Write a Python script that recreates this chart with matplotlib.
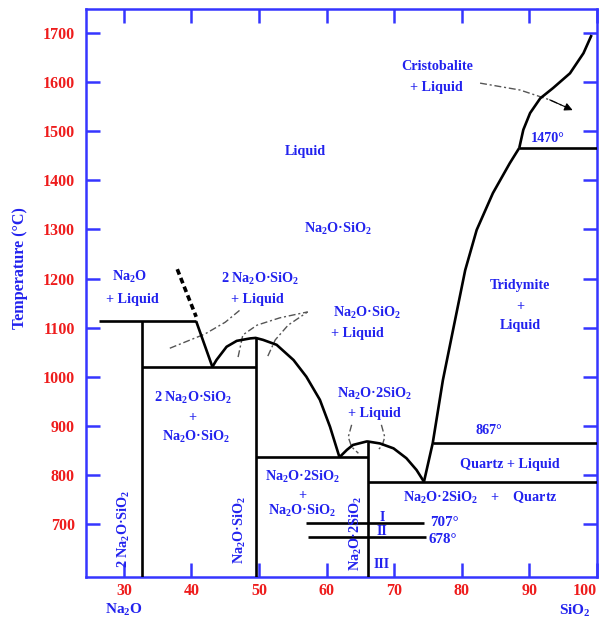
import matplotlib
matplotlib.use("Agg")
import matplotlib.pyplot as plt

plt.rcParams['font.family'] = ['Liberation Serif', 'DejaVu Serif']
plt.rcParams['font.weight'] = 'bold'
plt.rcParams['mathtext.fontset'] = 'custom'
plt.rcParams['mathtext.rm'] = 'Liberation Serif:bold'
plt.rcParams['mathtext.it'] = 'Liberation Serif:bold'
plt.rcParams['mathtext.bf'] = 'Liberation Serif:bold'
plt.rcParams['mathtext.default'] = 'rm'

# ---------------- data ----------------
x_ticks = [30, 40, 50, 60, 70, 80, 90, 100]
y_ticks = [700, 800, 900, 1000, 1100, 1200, 1300, 1400, 1500, 1600, 1700]

# compound compositions (wt% SiO2) and tops of their vertical lines
x_c1 = 32.7   # 2Na2O.SiO2
x_c2 = 49.5   # Na2O.SiO2
x_c3 = 66.1   # Na2O.2SiO2
t_c1_top = 1113
t_c2_top = 1079
t_c3_top = 868

# horizontals: (x_start, x_end, T)
h_1118 = (26.3, 40.7, 1113)
h_1020 = (32.7, 49.5, 1020)
h_837 = (49.5, 66.1, 836)
h_790 = (66.1, 100, 786)
h_867 = (75.7, 100, 865)
h_1470 = (88.5, 100, 1466)
h_707 = (57.0, 74.4, 701)
h_678 = (57.3, 74.7, 674)

# liquidus: 2Na2O.SiO2 incongruent -> eutectic
liq_a_x = [40.7, 43.1]
liq_a_t = [1113, 1020]
# dome of Na2O.SiO2
dome1_x = [43.1, 43.7, 45.2, 46.7, 48.7, 49.5, 50.6, 52.6, 55.1, 57.0, 59.0, 60.5, 61.9]
dome1_t = [1020, 1034, 1061, 1073, 1078, 1079, 1075, 1065, 1034, 1000, 953, 898, 836]
# dome of Na2O.2SiO2
dome2_x = [61.9, 63.0, 63.9, 65.9, 66.1, 67.9, 69.9, 71.8, 73.3, 74.4]
dome2_t = [836, 851, 861, 868, 868, 864, 854, 834, 810, 786]
# tridymite liquidus
trid_x = [74.4, 75.7, 77.2, 78.7, 80.5, 82.2, 84.6, 87.1, 88.5]
trid_t = [786, 865, 993, 1095, 1217, 1299, 1374, 1435, 1466]
# cristobalite liquidus
crist_x = [88.5, 89.1, 90.1, 91.6, 93.5, 96.0, 98.0, 99.2]
crist_t = [1466, 1503, 1537, 1567, 1588, 1618, 1659, 1696]

# metastable extension (thick dashed)
meta_x = [37.9, 40.7]
meta_t = [1219, 1122]

# thin dashed leader lines
lead_a_x = [36.8, 42.0, 45.0, 47.2]
lead_a_t = [1058, 1087, 1111, 1136]
lead_b_x = [46.9, 47.6, 49.7, 53.1, 57.2]
lead_b_t = [1040, 1085, 1105, 1120, 1132]
lead_c_x = [51.3, 52.4, 54.3, 57.2]
lead_c_t = [1042, 1075, 1105, 1132]
lead_d_x = [63.7, 63.2, 63.7, 64.7]
lead_d_t = [902, 877, 857, 844]
lead_e_x = [68.1, 68.6, 68.2, 67.6]
lead_e_t = [902, 877, 859, 851]
arrow_x = [82.7, 88.6, 93.0, 96.4]
arrow_t = [1598, 1584, 1564, 1543]

# text labels: (text, x, T)
labels = [
    ("Cristobalite", 76.3, 1631),
    ("+ Liquid", 76.3, 1590),
    ("1470°", 92.7, 1486),
    ("Liquid", 56.8, 1458),
    ("Na$_2$O·SiO$_2$", 61.7, 1301),
    ("Na$_2$O", 30.9, 1203),
    ("+ Liquid", 31.2, 1158),
    ("2 Na$_2$O·SiO$_2$", 50.1, 1199),
    ("+ Liquid", 49.7, 1158),
    ("Na$_2$O·SiO$_2$", 66.0, 1130),
    ("+ Liquid", 64.6, 1089),
    ("Tridymite", 88.6, 1185),
    ("+", 88.6, 1144),
    ("Liquid", 88.6, 1105),
    ("2 Na$_2$O·SiO$_2$", 40.2, 957),
    ("+", 40.2, 916),
    ("Na$_2$O·SiO$_2$", 40.7, 877),
    ("Na$_2$O·2SiO$_2$", 67.0, 965),
    ("+ Liquid", 67.0, 926),
    ("867°", 84.0, 890),
    ("Quartz + Liquid", 87.1, 822),
    ("Na$_2$O·2SiO$_2$", 56.4, 796),
    ("+", 56.4, 757),
    ("Na$_2$O·SiO$_2$", 56.4, 726),
    ("Na$_2$O·2SiO$_2$    +    Quartz", 82.7, 753),
    ("I", 68.2, 714),
    ("II", 68.2, 684),
    ("III", 68.2, 617),
]
left_labels = [
    ("707°", 75.3, 702),
    ("678°", 75.0, 668),
]
vert_labels = [
    ("2 Na$_2$O·SiO$_2$", 30.0, 690),
    ("Na$_2$O·SiO$_2$", 47.2, 688),
    ("Na$_2$O·2SiO$_2$", 64.3, 680),
]

# ---------------- plot ----------------
BLUE = '#2222ee'
SPINE = '#3535ff'
RED = '#ee1c1c'

fig = plt.figure(figsize=(6.02, 6.24), dpi=100)
ax = fig.add_axes([86/602, 1-577/624, (597-86)/602, (577-9)/624])
ax.set_xlim(24.4, 100)
ax.set_ylim(592, 1749)

lw = 1.9
kw = dict(color='black', lw=lw, solid_capstyle='butt', solid_joinstyle='round', zorder=3)
ax.plot([x_c1, x_c1], [592, t_c1_top], **kw)
ax.plot([x_c2, x_c2], [592, t_c2_top], **kw)
ax.plot([x_c3, x_c3], [592, t_c3_top], **kw)
for h in (h_1118, h_1020, h_837, h_790, h_867, h_1470, h_707, h_678):
    ax.plot([h[0], h[1]], [h[2], h[2]], **kw)
ax.plot(liq_a_x, liq_a_t, **kw)
ax.plot(dome1_x, dome1_t, **kw)
ax.plot(dome2_x, dome2_t, **kw)
ax.plot(trid_x, trid_t, **kw)
ax.plot(crist_x, crist_t, **kw)

ax.plot(meta_x, meta_t, color='black', lw=2.6, dashes=(1.6, 1.0), zorder=3)

dkw = dict(color='#555555', lw=1.0, dashes=(5, 2, 1.5, 2), zorder=2)
for lx, lt in ((lead_a_x, lead_a_t), (lead_b_x, lead_b_t), (lead_c_x, lead_c_t),
               (lead_d_x, lead_d_t), (lead_e_x, lead_e_t), (arrow_x, arrow_t)):
    ax.plot(lx, lt, **dkw)
ax.annotate('', xy=(arrow_x[-1], arrow_t[-1]), xytext=(arrow_x[-2], arrow_t[-2]),
            arrowprops=dict(arrowstyle='-|>', color='black', lw=0.8,
                            mutation_scale=12, shrinkA=0, shrinkB=0))

tkw = dict(color=BLUE, fontsize=10.2, fontweight='bold', ha='center', va='center', zorder=4)
for s, x, t in labels:
    ax.text(x, t, s, **tkw)
for s, x, t in left_labels:
    ax.text(x, t, s, color=BLUE, fontsize=10.8, fontweight='bold', ha='left', va='center')
for s, x, t in vert_labels:
    ax.text(x, t, s, rotation=90, **tkw)

for sp in ax.spines.values():
    sp.set_color(SPINE)
    sp.set_linewidth(1.8)
ax.set_xticks(x_ticks)
ax.set_yticks(y_ticks)
ax.tick_params(direction='in', length=10, width=1.8, color=SPINE,
               top=True, right=True, labelcolor=RED, labelsize=11.5)
ax.tick_params(axis='y', pad=8)
ax.tick_params(axis='x', pad=4)
for lab in ax.get_xticklabels() + ax.get_yticklabels():
    lab.set_fontweight('bold')
ax.get_xticklabels()[-1].set_horizontalalignment('right')
ax.get_xticklabels()[-1].set_x(100.3)

fig.text(20/602, 1-268/624, "Temperature (°C)", rotation=90, color=BLUE,
         fontsize=11.6, fontweight='bold', ha='center', va='center')
ax.text(30, -0.058, "Na$_2$O", transform=ax.get_xaxis_transform(), color=BLUE,
        fontsize=11, fontweight='bold', ha='center', va='center')
ax.text(96.7, -0.060, "SiO$_2$", transform=ax.get_xaxis_transform(), color=BLUE,
        fontsize=11, fontweight='bold', ha='center', va='center')

fig.savefig("out.png", dpi=100)
